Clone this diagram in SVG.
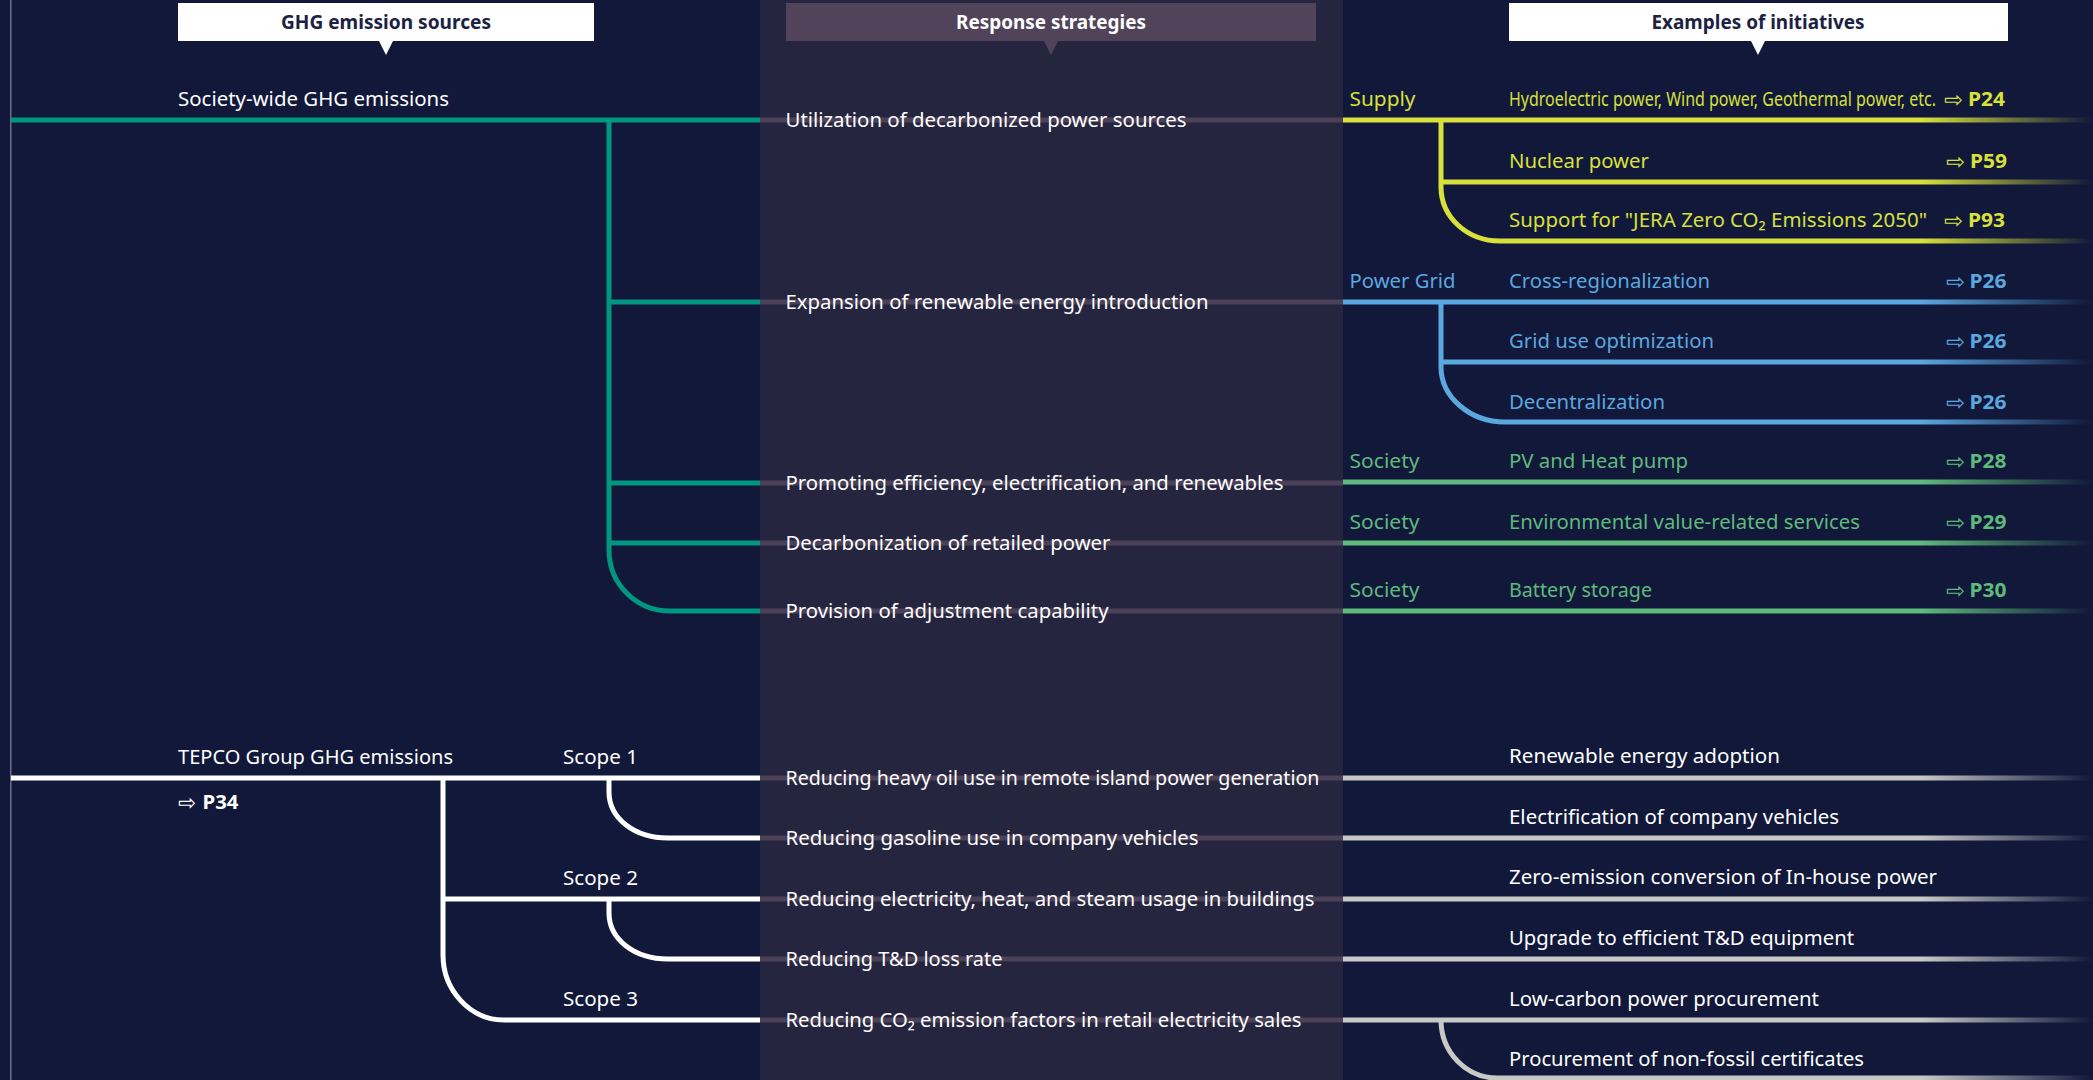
<svg xmlns="http://www.w3.org/2000/svg" width="2093" height="1080" viewBox="0 0 2093 1080">
<defs>
<style>
.t{font-family:"Noto Sans","DejaVu Sans",sans-serif;font-size:20px}
.bd{font-weight:700}
.w{fill:#ffffff}
.y{fill:#d8e03c}
.b{fill:#5ba7df}
.g{fill:#5fba7d}
.hd{fill:#1b2244}
.arr{font-family:"DejaVu Sans",sans-serif;font-size:22px}
.ln{fill:none;stroke-width:5}
.teal{stroke:#00967f}
.mid{stroke:#4b4259}
.wht{stroke:#ffffff}
</style>
<linearGradient id="gY" gradientUnits="userSpaceOnUse" x1="1343" y1="0" x2="2093" y2="0">
<stop offset="0" stop-color="#d8e03c"/><stop offset="0.77" stop-color="#d8e03c"/><stop offset="1" stop-color="#d8e03c" stop-opacity="0"/>
</linearGradient>
<linearGradient id="gB" gradientUnits="userSpaceOnUse" x1="1343" y1="0" x2="2093" y2="0">
<stop offset="0" stop-color="#5ba7df"/><stop offset="0.77" stop-color="#5ba7df"/><stop offset="1" stop-color="#5ba7df" stop-opacity="0"/>
</linearGradient>
<linearGradient id="gG" gradientUnits="userSpaceOnUse" x1="1343" y1="0" x2="2093" y2="0">
<stop offset="0" stop-color="#5fba7d"/><stop offset="0.77" stop-color="#5fba7d"/><stop offset="1" stop-color="#5fba7d" stop-opacity="0"/>
</linearGradient>
<linearGradient id="gW" gradientUnits="userSpaceOnUse" x1="1343" y1="0" x2="2093" y2="0">
<stop offset="0" stop-color="#c8c9c7"/><stop offset="0.77" stop-color="#c8c9c7"/><stop offset="1" stop-color="#c8c9c7" stop-opacity="0"/>
</linearGradient>
</defs>

<rect x="0" y="0" width="2093" height="1080" fill="#11183a"/>
<rect x="760" y="0" width="583" height="1080" fill="#26253f"/>
<rect x="10" y="0" width="1.5" height="1080" fill="#6b6f86"/>

<g id="header-sources">
<rect x="178" y="3" width="416" height="38" fill="#ffffff"/>
<polygon points="378.5,40 393.5,40 386,55" fill="#ffffff"/>
<text class="t bd hd" x="386" y="29" text-anchor="middle" textLength="210" lengthAdjust="spacingAndGlyphs">GHG emission sources</text>
</g>
<g id="header-strategies">
<rect x="786" y="3" width="530" height="38" fill="#51445a"/>
<polygon points="1043.5,40 1058.5,40 1051,55" fill="#51445a"/>
<text class="t bd w" x="1051" y="29" text-anchor="middle" textLength="190" lengthAdjust="spacingAndGlyphs">Response strategies</text>
</g>
<g id="header-initiatives">
<rect x="1509" y="3" width="499" height="38" fill="#ffffff"/>
<polygon points="1750.5,40 1765.5,40 1758,55" fill="#ffffff"/>
<text class="t bd hd" x="1758" y="29" text-anchor="middle" textLength="213" lengthAdjust="spacingAndGlyphs">Examples of initiatives</text>
</g>

<g id="connectors">
<path class="ln teal" d="M11,120 H760"/>
<path class="ln teal" d="M609,120 V550 C609,584 636,611 670,611 H760"/>
<path class="ln teal" d="M609,302 H760 M609,483 H760 M609,543 H760"/>
<path class="ln mid" d="M760,120 H1343 M760,302 H1343 M760,483 H1343 M760,543 H1343 M760,611 H1343 M760,778 H1343 M760,838 H1343 M760,899 H1343 M760,959 H1343 M760,1020 H1343"/>
<path class="ln" stroke="url(#gY)" d="M1343,120 H2093 M1441,182 H2093"/>
<path class="ln" stroke="url(#gY)" d="M1441,120 V187 C1441,217 1467,241 1500,241 H2093"/>
<path class="ln" stroke="url(#gB)" d="M1343,302 H2093 M1441,362 H2093"/>
<path class="ln" stroke="url(#gB)" d="M1441,302 V367 C1441,397 1470,422 1505,422 H2093"/>
<path class="ln" stroke="url(#gG)" d="M1343,482 H2093 M1343,543 H2093 M1343,611 H2093"/>
<path class="ln wht" d="M11,778 H760 M443,899 H760"/>
<path class="ln wht" d="M443,778 V955 C443,990 470,1020 504,1020 H760"/>
<path class="ln wht" d="M609,778 V792 C609,818 634,838 668,838 H760"/>
<path class="ln wht" d="M609,899 V913 C609,939 634,959 668,959 H760"/>
<path class="ln" stroke="url(#gW)" d="M1343,778 H2093 M1343,838 H2093 M1343,899 H2093 M1343,959 H2093 M1343,1020 H2093"/>
<path class="ln" stroke="url(#gW)" d="M1441,1020 C1441,1052 1466,1078 1497,1078 H2093"/>
</g>

<g id="src-society"><text class="t w" x="178" y="106" textLength="271" lengthAdjust="spacingAndGlyphs">Society-wide GHG emissions</text></g>
<g id="src-tepco">
<text class="t w" x="178" y="764" textLength="275" lengthAdjust="spacingAndGlyphs">TEPCO Group GHG emissions</text>
<text class="arr w" x="178" y="810" textLength="18" lengthAdjust="spacingAndGlyphs">⇨</text>
<text class="t bd w" x="202.5" y="809" textLength="36" lengthAdjust="spacingAndGlyphs">P34</text>
</g>
<g id="scope1"><text class="t w" x="563" y="764" textLength="75" lengthAdjust="spacingAndGlyphs">Scope 1</text></g>
<g id="scope2"><text class="t w" x="563" y="885" textLength="75" lengthAdjust="spacingAndGlyphs">Scope 2</text></g>
<g id="scope3"><text class="t w" x="563" y="1006" textLength="75" lengthAdjust="spacingAndGlyphs">Scope 3</text></g>

<g id="strat-decarbonized"><text class="t w" x="785.5" y="127" textLength="401" lengthAdjust="spacingAndGlyphs">Utilization of decarbonized power sources</text></g>
<g id="strat-renewable"><text class="t w" x="785.5" y="309" textLength="423" lengthAdjust="spacingAndGlyphs">Expansion of renewable energy introduction</text></g>
<g id="strat-efficiency"><text class="t w" x="785.5" y="490" textLength="498" lengthAdjust="spacingAndGlyphs">Promoting efficiency, electrification, and renewables</text></g>
<g id="strat-retail"><text class="t w" x="785.5" y="550" textLength="325" lengthAdjust="spacingAndGlyphs">Decarbonization of retailed power</text></g>
<g id="strat-adjust"><text class="t w" x="785.5" y="618" textLength="323" lengthAdjust="spacingAndGlyphs">Provision of adjustment capability</text></g>
<g id="strat-oil"><text class="t w" x="785.5" y="785" textLength="534" lengthAdjust="spacingAndGlyphs">Reducing heavy oil use in remote island power generation</text></g>
<g id="strat-gasoline"><text class="t w" x="785.5" y="845" textLength="413" lengthAdjust="spacingAndGlyphs">Reducing gasoline use in company vehicles</text></g>
<g id="strat-buildings"><text class="t w" x="785.5" y="906" textLength="529" lengthAdjust="spacingAndGlyphs">Reducing electricity, heat, and steam usage in buildings</text></g>
<g id="strat-td"><text class="t w" x="785.5" y="966" textLength="217" lengthAdjust="spacingAndGlyphs">Reducing T&amp;D loss rate</text></g>
<g id="strat-co2"><text class="t w" x="785.5" y="1027" textLength="516" lengthAdjust="spacingAndGlyphs">Reducing CO₂ emission factors in retail electricity sales</text></g>

<g id="cat-supply"><text class="t y" x="1349.5" y="106" textLength="66" lengthAdjust="spacingAndGlyphs">Supply</text></g>
<g id="cat-grid"><text class="t b" x="1349.5" y="288" textLength="106" lengthAdjust="spacingAndGlyphs">Power Grid</text></g>
<g id="cat-society1"><text class="t g" x="1349.5" y="468" textLength="70" lengthAdjust="spacingAndGlyphs">Society</text></g>
<g id="cat-society2"><text class="t g" x="1349.5" y="529" textLength="70" lengthAdjust="spacingAndGlyphs">Society</text></g>
<g id="cat-society3"><text class="t g" x="1349.5" y="597" textLength="70" lengthAdjust="spacingAndGlyphs">Society</text></g>

<g id="init-hydro">
<text class="t y" x="1509" y="106" textLength="427" lengthAdjust="spacingAndGlyphs">Hydroelectric power, Wind power, Geothermal power, etc.</text>
<text class="arr y" x="1944" y="107" textLength="19" lengthAdjust="spacingAndGlyphs">⇨</text>
<text class="t bd y" x="1968" y="106" textLength="37" lengthAdjust="spacingAndGlyphs">P24</text>
</g>
<g id="init-nuclear">
<text class="t y" x="1509" y="168" textLength="140" lengthAdjust="spacingAndGlyphs">Nuclear power</text>
<text class="arr y" x="1946" y="169" textLength="19" lengthAdjust="spacingAndGlyphs">⇨</text>
<text class="t bd y" x="1970" y="168" textLength="37" lengthAdjust="spacingAndGlyphs">P59</text>
</g>
<g id="init-jera">
<text class="t y" x="1509" y="227" textLength="418" lengthAdjust="spacingAndGlyphs">Support for "JERA Zero CO₂ Emissions 2050"</text>
<text class="arr y" x="1944" y="228" textLength="19" lengthAdjust="spacingAndGlyphs">⇨</text>
<text class="t bd y" x="1968" y="227" textLength="37" lengthAdjust="spacingAndGlyphs">P93</text>
</g>
<g id="init-cross">
<text class="t b" x="1509" y="288" textLength="201" lengthAdjust="spacingAndGlyphs">Cross-regionalization</text>
<text class="arr b" x="1946" y="289" textLength="19" lengthAdjust="spacingAndGlyphs">⇨</text>
<text class="t bd b" x="1969.5" y="288" textLength="37" lengthAdjust="spacingAndGlyphs">P26</text>
</g>
<g id="init-griduse">
<text class="t b" x="1509" y="348" textLength="205" lengthAdjust="spacingAndGlyphs">Grid use optimization</text>
<text class="arr b" x="1946" y="349" textLength="19" lengthAdjust="spacingAndGlyphs">⇨</text>
<text class="t bd b" x="1969.5" y="348" textLength="37" lengthAdjust="spacingAndGlyphs">P26</text>
</g>
<g id="init-decentral">
<text class="t b" x="1509" y="409" textLength="156" lengthAdjust="spacingAndGlyphs">Decentralization</text>
<text class="arr b" x="1946" y="410" textLength="19" lengthAdjust="spacingAndGlyphs">⇨</text>
<text class="t bd b" x="1969.5" y="409" textLength="37" lengthAdjust="spacingAndGlyphs">P26</text>
</g>
<g id="init-pv">
<text class="t g" x="1509" y="468" textLength="179" lengthAdjust="spacingAndGlyphs">PV and Heat pump</text>
<text class="arr g" x="1946" y="469" textLength="19" lengthAdjust="spacingAndGlyphs">⇨</text>
<text class="t bd g" x="1969.5" y="468" textLength="37" lengthAdjust="spacingAndGlyphs">P28</text>
</g>
<g id="init-env">
<text class="t g" x="1509" y="529" textLength="351" lengthAdjust="spacingAndGlyphs">Environmental value-related services</text>
<text class="arr g" x="1946" y="530" textLength="19" lengthAdjust="spacingAndGlyphs">⇨</text>
<text class="t bd g" x="1969.5" y="529" textLength="37" lengthAdjust="spacingAndGlyphs">P29</text>
</g>
<g id="init-battery">
<text class="t g" x="1509" y="597" textLength="143" lengthAdjust="spacingAndGlyphs">Battery storage</text>
<text class="arr g" x="1946" y="598" textLength="19" lengthAdjust="spacingAndGlyphs">⇨</text>
<text class="t bd g" x="1969.5" y="597" textLength="37" lengthAdjust="spacingAndGlyphs">P30</text>
</g>
<g id="init-renewable"><text class="t w" x="1509" y="763" textLength="271" lengthAdjust="spacingAndGlyphs">Renewable energy adoption</text></g>
<g id="init-ev"><text class="t w" x="1509" y="824" textLength="330" lengthAdjust="spacingAndGlyphs">Electrification of company vehicles</text></g>
<g id="init-zero"><text class="t w" x="1509" y="884" textLength="428" lengthAdjust="spacingAndGlyphs">Zero-emission conversion of In-house power</text></g>
<g id="init-upgrade"><text class="t w" x="1509" y="945" textLength="345" lengthAdjust="spacingAndGlyphs">Upgrade to efficient T&amp;D equipment</text></g>
<g id="init-lowcarbon"><text class="t w" x="1509" y="1006" textLength="310" lengthAdjust="spacingAndGlyphs">Low-carbon power procurement</text></g>
<g id="init-nonfossil"><text class="t w" x="1509" y="1066" textLength="355" lengthAdjust="spacingAndGlyphs">Procurement of non-fossil certificates</text></g>
</svg>
